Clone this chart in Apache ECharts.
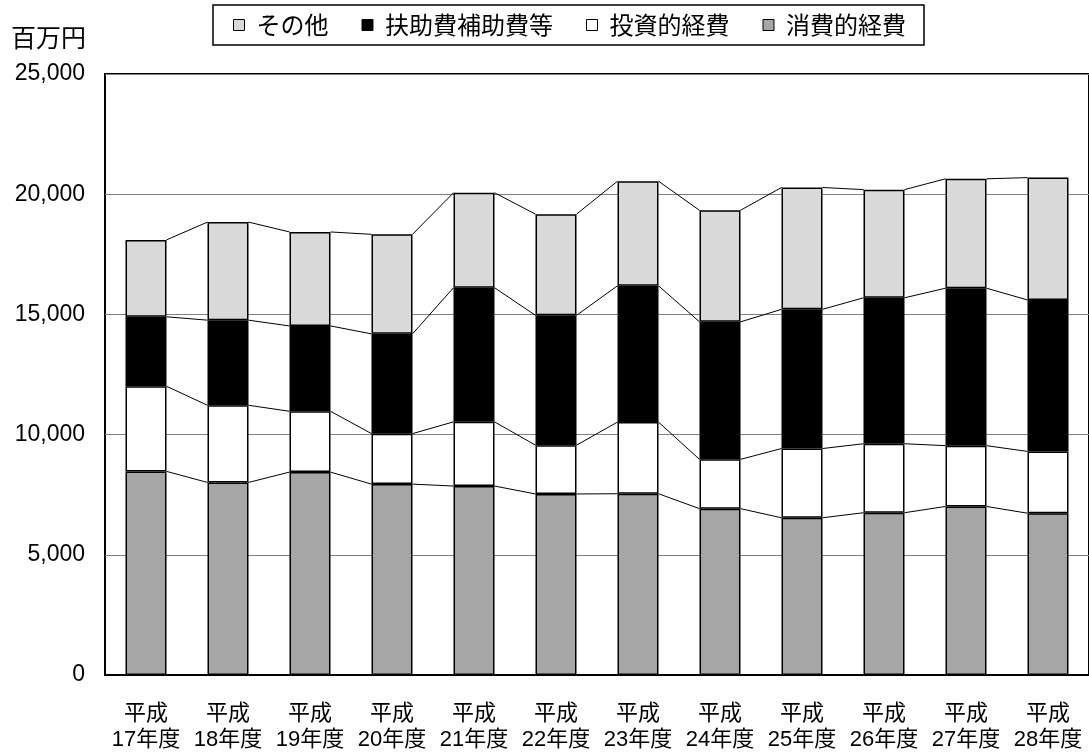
<!DOCTYPE html>
<html><head><meta charset="utf-8">
<script src="https://cdn.jsdelivr.net/npm/echarts@6/dist/echarts.min.js"></script>
<style>html,body{margin:0;padding:0;background:#fff}#c{width:1089px;height:753px}</style>
</head><body><div id="c"></div>
<script>
const categories = ['平成\n17年度','平成\n18年度','平成\n19年度','平成\n20年度','平成\n21年度','平成\n22年度','平成\n23年度','平成\n24年度','平成\n25年度','平成\n26年度','平成\n27年度','平成\n28年度'];
const consumptive = [8470, 8010, 8440, 7940, 7860, 7530, 7540, 6920, 6540, 6750, 7010, 6730];
const investment  = [3540, 3210, 2530, 2100, 2670, 2030, 2980, 2050, 2880, 2870, 2530, 2570];
const aid         = [2890, 3540, 3550, 4150, 5580, 5400, 5670, 5720, 5790, 6070, 6550, 6300];
const other       = [3200, 4080, 3910, 4140, 3950, 4210, 4350, 4640, 5070, 4500, 4550, 5090];
const yTicks = [0, 5000, 10000, 15000, 20000, 25000];

const seriesDefs = [
  {name:'消費的経費', data:consumptive, color:'#a6a6a6'},
  {name:'投資的経費', data:investment, color:'#ffffff'},
  {name:'扶助費補助費等', data:aid, color:'#000000'},
  {name:'その他', data:other, color:'#d9d9d9'}
];

// cumulative tops for connector lines
const cums = [];
let run = categories.map(()=>0);
seriesDefs.forEach(s=>{ run = run.map((v,i)=>v+s.data[i]); cums.push(run.slice()); });

function connector(cum){
  const data=[];
  for(let i=0;i<cum.length-1;i++) data.push([i,cum[i],cum[i+1]]);
  return {
    type:'custom', data, encode:{x:0,y:1}, silent:true, z:1,
    renderItem(params, api){
      const i = api.value(0);
      const p1 = api.coord([i, api.value(1)]);
      const p2 = api.coord([i+1, api.value(2)]);
      const half = api.size([1,0])[0]*0.25;
      return {type:'line', shape:{x1:p1[0]+half,y1:p1[1],x2:p2[0]-half,y2:p2[1]}, style:{stroke:'#000',lineWidth:1}};
    }
  };
}

const chart = echarts.init(document.getElementById('c'), null, {renderer:'canvas'});
const series = seriesDefs.map(s=>({
  name:s.name, type:'bar', stack:'total', data:s.data, barWidth:'50%', z:2,
  itemStyle:{color:s.color, borderColor:'#000', borderWidth:1.5}
})).concat(cums.map(connector));

chart.setOption({
  animation:false,
  backgroundColor:'#fff',
  title:{text:'百万円', left:11, top:25, padding:0, textStyle:{fontFamily:'Noto Sans CJK JP', fontSize:25, fontWeight:'normal', color:'#000'}},
  legend:{
    data:['その他','扶助費補助費等','投資的経費','消費的経費'].map(n=>({name:n, icon:'rect'})),
    left:213, top:5, padding:[8,18,8,20], itemGap:33, itemWidth:11, itemHeight:11,
    borderColor:'#000', borderWidth:1.5,
    itemStyle:{borderColor:'#000', borderWidth:1},
    textStyle:{fontFamily:'Noto Sans CJK JP', fontSize:24, color:'#000', padding:[0,0,0,7]}
  },
  grid:{left:105, top:74, width:988, bottom:78, show:true, borderColor:'#000', borderWidth:2, containLabel:false},
  xAxis:{type:'category', data:categories,
    axisLine:{lineStyle:{color:'#000', width:2}}, axisTick:{show:false},
    axisLabel:{color:'#000', fontFamily:'Liberation Sans, Noto Sans CJK JP', fontSize:22, lineHeight:26, margin:26, interval:0}
  },
  yAxis:{type:'value', min:yTicks[0], max:yTicks[yTicks.length-1], interval:5000,
    axisLine:{show:false}, axisTick:{show:false},
    splitLine:{lineStyle:{color:'#808080', width:1}},
    axisLabel:{color:'#000', fontFamily:'Liberation Sans', fontSize:23, margin:20,
      formatter:v=>v.toLocaleString('en-US')}
  },
  series
});
</script></body></html>
